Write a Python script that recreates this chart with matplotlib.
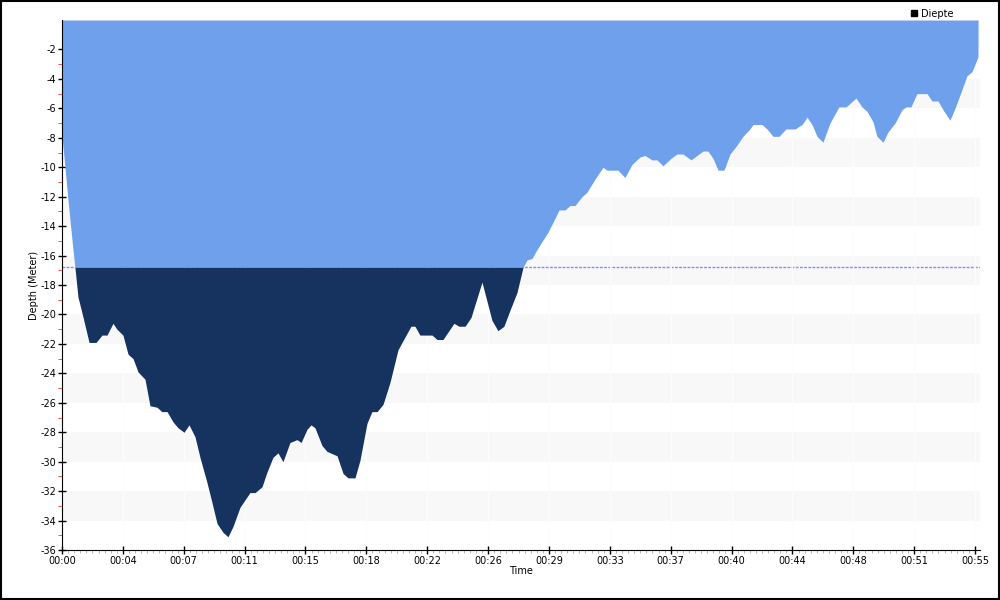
#!/usr/bin/env python3

import matplotlib
matplotlib.use("Agg")
import matplotlib.pyplot as plt
import numpy as np
from matplotlib.lines import Line2D
from matplotlib.patches import Rectangle
from matplotlib.ticker import FixedLocator, MultipleLocator

plt.rcParams['font.family'] = ['DejaVu Sans']
plt.rcParams['axes.unicode_minus'] = False

# Dive profile: time in minutes, depth in metres (negative = down)
time_min = [0.00, 0.36, 0.66, 0.78, 0.96, 1.27, 1.63, 2.05, 2.41, 2.71,
            3.07, 3.31, 3.67, 3.98, 4.28, 4.58, 5.00, 5.30, 5.72, 6.02,
            6.33, 6.69, 6.99, 7.35, 7.65, 8.01, 8.31, 8.73, 9.04, 9.34,
            9.70, 10.00, 10.30, 10.72, 11.32, 11.63, 12.05, 12.35, 12.71, 13.01,
            13.31, 13.73, 14.16, 14.40, 14.76, 15.00, 15.24, 15.66, 15.96, 16.57,
            16.93, 17.23, 17.65, 17.95, 18.37, 18.67, 18.98, 19.34, 19.76, 20.24,
            20.48, 21.02, 21.26, 21.56, 22.29, 22.59, 22.95, 23.61, 23.91, 24.28,
            24.64, 25.30, 25.90, 26.26, 26.62, 26.99, 27.41, 27.77, 28.01, 28.31,
            28.61, 29.28, 29.64, 29.94, 30.30, 30.60, 30.90, 31.32, 31.62, 32.11,
            32.59, 32.83, 33.49, 33.91, 34.34, 34.82, 35.12, 35.54, 35.84, 36.20,
            36.68, 37.05, 37.41, 37.89, 38.61, 38.91, 39.22, 39.52, 39.88, 40.24,
            40.66, 41.02, 41.44, 41.62, 42.17, 42.47, 42.83, 43.19, 43.61, 44.15,
            44.58, 44.88, 45.18, 45.48, 45.84, 46.26, 46.80, 47.23, 47.53, 47.83,
            48.19, 48.49, 48.85, 49.09, 49.46, 49.76, 50.18, 50.60, 50.84, 51.14,
            51.50, 52.11, 52.41, 52.77, 53.13, 53.49, 53.79, 54.09, 54.51, 54.82,
            55.18]
depth_m = [-7.85, -12.2, -15.6, -16.8, -18.8, -20.2, -21.9, -21.9, -21.4, -21.4,
           -20.6, -21.0, -21.4, -22.7, -23.0, -23.9, -24.4, -26.2, -26.3, -26.6,
           -26.6, -27.3, -27.7, -28.0, -27.5, -28.3, -29.7, -31.4, -32.8, -34.2,
           -34.8, -35.1, -34.4, -33.1, -32.1, -32.1, -31.7, -30.7, -29.7, -29.4,
           -30.0, -28.7, -28.5, -28.7, -27.8, -27.5, -27.7, -28.9, -29.3, -29.6,
           -30.8, -31.1, -31.1, -29.9, -27.4, -26.6, -26.6, -26.1, -24.6, -22.4,
           -21.9, -20.8, -20.8, -21.4, -21.4, -21.7, -21.7, -20.6, -20.8, -20.8,
           -20.2, -17.8, -20.4, -21.1, -20.8, -19.7, -18.5, -16.8, -16.3, -16.2,
           -15.6, -14.4, -13.6, -12.9, -12.9, -12.6, -12.6, -12.0, -11.7, -10.8,
           -10.0, -10.2, -10.2, -10.7, -9.8, -9.3, -9.2, -9.5, -9.5, -9.9,
           -9.4, -9.1, -9.1, -9.5, -8.9, -8.9, -9.4, -10.2, -10.2, -9.1,
           -8.5, -7.9, -7.4, -7.1, -7.1, -7.4, -7.9, -7.9, -7.4, -7.4,
           -7.1, -6.6, -7.1, -7.9, -8.3, -7.0, -5.9, -5.9, -5.6, -5.3,
           -5.9, -6.2, -6.9, -7.9, -8.3, -7.6, -7.0, -6.1, -5.9, -5.9,
           -5.0, -5.0, -5.5, -5.5, -6.2, -6.8, -6.0, -5.1, -3.8, -3.5,
           -2.5]
threshold = -16.8

tick_pos = [i * 11 / 3 for i in range(16)]
tick_labels = ["00:00", "00:04", "00:07", "00:11", "00:15", "00:18", "00:22", "00:26",
               "00:29", "00:33", "00:37", "00:40", "00:44", "00:48", "00:51", "00:55"]
y_ticks = list(range(-36, 0, 2))
y_minor = list(range(-35, -2, 2))

t = np.array(time_min)
d = np.array(depth_m)

light = '#6fa0ec'
dark = '#16325f'

fig = plt.figure(figsize=(10, 6), dpi=100)
ax = fig.add_axes([0.062, 0.0833, 0.918, 0.8833])
ax.set_xlim(0, 55.3)
ax.set_ylim(-36, 0)

# alternating background bands
for lo in range(-34, 0, 4):
    ax.axhspan(lo, lo + 2, color='#f8f8f8', lw=0, zorder=0)
ax.grid(axis='x', color='#fdfdfd', lw=0.8, zorder=0.5)

ax.axhline(threshold, color='#8888ff', ls=(0, (2, 1)), lw=1, zorder=1)

ax.fill_between(t, 0, np.maximum(d, threshold), color=light, lw=0, zorder=2)
ax.fill_between(t, threshold, d, where=d < threshold, interpolate=True,
                color=dark, lw=0, zorder=2)

for s in ['top', 'right']:
    ax.spines[s].set_visible(False)

ax.set_xticks(tick_pos)
ax.set_xticklabels(tick_labels, fontsize=7)
ax.xaxis.set_minor_locator(MultipleLocator(11 / 30))
ax.tick_params(axis='x', which='major', direction='inout', length=6, width=1, pad=1)
ax.tick_params(axis='x', which='minor', direction='out', length=2, color='#aaaaaa')

ax.set_yticks(y_ticks)
ax.set_yticklabels([str(v) for v in y_ticks], fontsize=7)
ax.yaxis.set_minor_locator(FixedLocator(y_minor))
ax.tick_params(axis='y', which='major', direction='inout', length=6, width=1, pad=1)
ax.tick_params(axis='y', which='minor', direction='out', length=3, color='#ff3030')

ax.set_xlabel("Time", fontsize=7, labelpad=0)
ax.set_ylabel("Depth (Meter)", fontsize=7, labelpad=1)

handle = Line2D([], [], marker='s', color='black', linestyle='none', markersize=5)
fig.legend([handle], ["Diepte"], loc='upper left', bbox_to_anchor=(0.9, 1.0),
           frameon=False, fontsize=7, handletextpad=0.3, handlelength=1)

fig.patches.append(Rectangle((0.0005, 0.001), 0.998, 0.997, transform=fig.transFigure,
                             fill=False, edgecolor='black', lw=1.5))

plt.savefig("out.png", dpi=100)
